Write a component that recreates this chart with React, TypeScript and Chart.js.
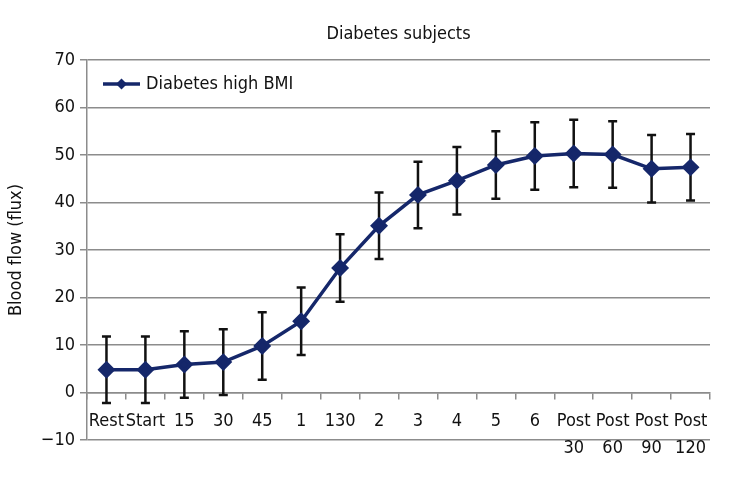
import React, { useEffect, useRef } from "react";
import { Chart, registerables } from "chart.js";

Chart.register(...registerables);

const categories: (string | string[])[] = [
  "Rest", "Start", "15", "30", "45", "1", "130", "2", "3", "4", "5", "6",
  ["Post", "30"], ["Post", "60"], ["Post", "90"], ["Post", "120"],
];
const seriesName = "Diabetes high BMI";
const meanValues = [4.8, 4.8, 5.9, 6.4, 9.8, 15.0, 26.2, 35.1, 41.6, 44.6, 47.9, 49.8, 50.3, 50.1, 47.1, 47.4];
const errorValues = [7.0, 7.0, 7.0, 6.9, 7.1, 7.1, 7.1, 7.0, 7.0, 7.1, 7.1, 7.1, 7.1, 7.0, 7.1, 7.0];
const yMin = -10;
const yMax = 70;
const yStep = 10;
const titleText = "Diabetes subjects";
const yTitle = "Blood flow (flux)";

const FONT = "'Liberation Sans Narrow', 'DejaVu Sans Condensed', 'Roboto Condensed', 'Liberation Sans', sans-serif";
const LINE_COLOR = "#15276a";
const GRID_COLOR = "#8c8c8c";

const errorBarPlugin = {
  id: "errorBars",
  beforeDatasetsDraw(chart: any) {
    const xs = chart.scales.x;
    const ys = chart.scales.y;
    const ctx = chart.ctx;
    ctx.save();
    ctx.strokeStyle = "#111111";
    ctx.lineWidth = 2.5;
    meanValues.forEach((m, i) => {
      const x = xs.getPixelForValue(i);
      const yt = ys.getPixelForValue(m + errorValues[i]);
      const yb = ys.getPixelForValue(m - errorValues[i]);
      ctx.beginPath();
      ctx.moveTo(x, yt);
      ctx.lineTo(x, yb);
      ctx.moveTo(x - 4.5, yt);
      ctx.lineTo(x + 4.5, yt);
      ctx.moveTo(x - 4.5, yb);
      ctx.lineTo(x + 4.5, yb);
      ctx.stroke();
    });
    ctx.restore();
  },
};

const legendPlugin = {
  id: "insideLegend",
  afterDraw(chart: any) {
    const ctx = chart.ctx;
    const area = chart.chartArea;
    const y = area.top + 24;
    const x0 = area.left + 16;
    const x1 = x0 + 37;
    ctx.save();
    ctx.strokeStyle = LINE_COLOR;
    ctx.lineWidth = 3.5;
    ctx.beginPath();
    ctx.moveTo(x0, y);
    ctx.lineTo(x1, y);
    ctx.stroke();
    const cx = (x0 + x1) / 2;
    ctx.fillStyle = LINE_COLOR;
    ctx.beginPath();
    ctx.moveTo(cx, y - 5.5);
    ctx.lineTo(cx + 5.5, y);
    ctx.lineTo(cx, y + 5.5);
    ctx.lineTo(cx - 5.5, y);
    ctx.closePath();
    ctx.fill();
    ctx.fillStyle = "#111111";
    ctx.font = `18px ${FONT}`;
    ctx.textBaseline = "middle";
    ctx.textAlign = "left";
    ctx.fillText(seriesName, x1 + 6, y);
    ctx.restore();
  },
};

export default function App() {
  const ref = useRef<HTMLCanvasElement | null>(null);

  useEffect(() => {
    if (!ref.current) return;
    const chart = new Chart(ref.current, {
      type: "line",
      data: {
        labels: categories as any,
        datasets: [
          {
            label: seriesName,
            data: meanValues,
            borderColor: LINE_COLOR,
            backgroundColor: LINE_COLOR,
            borderWidth: 3.5,
            pointStyle: "rectRot",
            pointRadius: 6.5,
            pointBackgroundColor: LINE_COLOR,
            pointBorderColor: LINE_COLOR,
            tension: 0,
          },
        ],
      },
      options: {
        animation: false,
        responsive: false,
        layout: { padding: { left: 0, right: 34, top: 0, bottom: 40 } },
        plugins: {
          legend: { display: false },
          tooltip: { enabled: false },
          title: {
            display: true,
            text: titleText,
            fullSize: false,
            color: "#111111",
            font: { family: FONT, size: 18, weight: "normal" },
            padding: { top: 23.5, bottom: 14.9 },
          },
        },
        scales: {
          x: {
            type: "category",
            position: { y: 0 } as any,
            offset: true,
            grid: {
              display: true,
              drawOnChartArea: false,
              drawTicks: true,
              tickLength: 6,
              color: GRID_COLOR,
              lineWidth: 1.5,
              offset: true,
            },
            border: { display: true, color: GRID_COLOR, width: 1.5 },
            ticks: {
              autoSkip: false,
              maxRotation: 0,
              minRotation: 0,
              padding: 9,
              color: "#111111",
              font: { family: FONT, size: 18, lineHeight: 1.5 },
            },
          },
          y: {
            type: "linear",
            min: yMin,
            max: yMax,
            afterFit(scale: any) {
              scale.width = 87;
            },
            ticks: {
              stepSize: yStep,
              padding: 5,
              color: "#111111",
              font: { family: FONT, size: 18 },
              callback: (v: any) => String(v).replace("-", "\u2212"),
            },
            grid: {
              color: GRID_COLOR,
              lineWidth: 1.5,
              tickLength: 7,
            },
            border: { display: true, color: GRID_COLOR, width: 1.5 },
            title: {
              display: true,
              text: yTitle,
              color: "#111111",
              font: { family: FONT, size: 18 },
              padding: { top: 6, bottom: 0 },
            },
          },
        },
      },
      plugins: [errorBarPlugin, legendPlugin],
    });
    return () => chart.destroy();
  }, []);

  return (
    <div style={{ position: "absolute", left: 0, top: 0, width: 744, height: 480, background: "#ffffff" }}>
      <canvas ref={ref} width={744} height={480} />
    </div>
  );
}
